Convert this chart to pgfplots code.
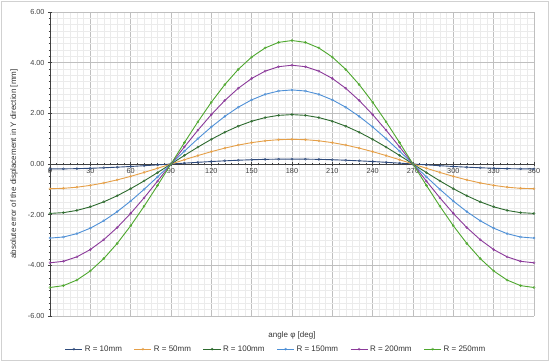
\documentclass[border=0pt]{standalone}
\usepackage{pgfplots}
\usepackage{pgfplotstable}
\pgfplotsset{compat=1.18}
\usepackage{fontspec}
\setmainfont{Liberation Sans}
\definecolor{cA}{HTML}{2F4B7C}
\definecolor{cB}{HTML}{E59F47}
\definecolor{cC}{HTML}{2D6A2E}
\definecolor{cD}{HTML}{4D8FD6}
\definecolor{cE}{HTML}{8B3A9A}
\definecolor{cF}{HTML}{4EA72E}
\pgfplotstableread{
phi r10 r50 r100 r150 r200 r250
0 -0.195 -0.975 -1.950 -2.925 -3.900 -4.875
10 -0.192 -0.960 -1.920 -2.881 -3.841 -4.801
20 -0.183 -0.916 -1.832 -2.749 -3.665 -4.581
30 -0.169 -0.844 -1.689 -2.533 -3.377 -4.222
40 -0.149 -0.747 -1.494 -2.241 -2.987 -3.734
50 -0.125 -0.627 -1.253 -1.880 -2.507 -3.134
60 -0.098 -0.488 -0.975 -1.463 -1.950 -2.438
70 -0.067 -0.333 -0.667 -1.000 -1.334 -1.667
80 -0.034 -0.169 -0.339 -0.508 -0.677 -0.846
90 0 0 0 0 0 0
100 0.034 0.169 0.339 0.508 0.677 0.846
110 0.067 0.333 0.667 1.000 1.334 1.667
120 0.098 0.488 0.975 1.463 1.950 2.438
130 0.125 0.627 1.253 1.880 2.507 3.134
140 0.149 0.747 1.494 2.241 2.987 3.734
150 0.169 0.844 1.689 2.533 3.377 4.222
160 0.183 0.916 1.832 2.749 3.665 4.581
170 0.192 0.960 1.920 2.881 3.841 4.801
180 0.195 0.975 1.950 2.925 3.900 4.875
190 0.192 0.960 1.920 2.881 3.841 4.801
200 0.183 0.916 1.832 2.749 3.665 4.581
210 0.169 0.844 1.689 2.533 3.377 4.222
220 0.149 0.747 1.494 2.241 2.987 3.734
230 0.125 0.627 1.253 1.880 2.507 3.134
240 0.098 0.488 0.975 1.463 1.950 2.438
250 0.067 0.333 0.667 1.000 1.334 1.667
260 0.034 0.169 0.339 0.508 0.677 0.846
270 0 0 0 0 0 0
280 -0.034 -0.169 -0.339 -0.508 -0.677 -0.846
290 -0.067 -0.333 -0.667 -1.000 -1.334 -1.667
300 -0.098 -0.488 -0.975 -1.463 -1.950 -2.438
310 -0.125 -0.627 -1.253 -1.880 -2.507 -3.134
320 -0.149 -0.747 -1.494 -2.241 -2.987 -3.734
330 -0.169 -0.844 -1.689 -2.533 -3.377 -4.222
340 -0.183 -0.916 -1.832 -2.749 -3.665 -4.581
350 -0.192 -0.960 -1.920 -2.881 -3.841 -4.801
360 -0.195 -0.975 -1.950 -2.925 -3.900 -4.875
}\data
\begin{document}
\begin{tikzpicture}
\useasboundingbox (-50pt,-46pt) rectangle (500pt,316pt);
\draw[black!18, line width=0.6pt] (-48.5pt,-44.5pt) rectangle (498.5pt,314.5pt);
\begin{axis}[
  at={(0,0)}, anchor=south west,
  scale only axis, width=484pt, height=304pt,
  xmin=0, xmax=360, ymin=-6, ymax=6,
  axis x line=middle, axis y line=left,
  axis line style={black!75, line width=0.6pt, -},
  hide obscured x ticks=false, hide obscured y ticks=false,
  xtick={0,30,...,360}, ytick={-6,-4,...,6},
  minor x tick num=5, minor y tick num=7,
  grid=both,
  major grid style={black!25, line width=0.5pt},
  minor grid style={black!8, line width=0.4pt},
  tick style={black!75, line width=0.5pt},
  major tick length=4pt, minor tick length=2.5pt,
  tick align=center,
  x tick label style={font=\fontsize{7.3}{8}\selectfont, text=black!75, yshift=1pt},
  y tick label style={font=\fontsize{7.3}{8}\selectfont, text=black!75, /pgf/number format/.cd, fixed, fixed zerofill, precision=2, assume math mode=true},
  xticklabel style={/pgf/number format/assume math mode=true},
  xlabel={angle φ [deg]},
  xlabel style={font=\fontsize{8}{9}\selectfont, text=black!80, at={(axis description cs:0.5,0)}, anchor=north, yshift=-12pt},
  ylabel={absolute error of the displacement in Y direction [mm]},
  ylabel style={font=\fontsize{8}{9}\selectfont, text=black!80, at={(axis description cs:-0.074,0.5)}, anchor=center},
  legend style={at={(axis description cs:0.467,-0.109)}, anchor=center, draw=none, fill=none,
    font=\fontsize{8}{9}\selectfont, text=black!80, legend columns=-1,
    /tikz/every even column/.append style={column sep=10pt}},
  legend cell align=left,
  every axis plot/.append style={line width=0.9pt, mark=o, mark size=1.1pt, mark options={solid, fill=white, line width=0.4pt}},
]
\addplot[cA] table[x=phi, y=r10] {\data};
\addlegendentry{R = 10mm}
\addplot[cB] table[x=phi, y=r50] {\data};
\addlegendentry{R = 50mm}
\addplot[cC] table[x=phi, y=r100] {\data};
\addlegendentry{R = 100mm}
\addplot[cD] table[x=phi, y=r150] {\data};
\addlegendentry{R = 150mm}
\addplot[cE] table[x=phi, y=r200] {\data};
\addlegendentry{R = 200mm}
\addplot[cF] table[x=phi, y=r250] {\data};
\addlegendentry{R = 250mm}
\node[font=\fontsize{7.3}{8}\selectfont, text=black!75, anchor=north, inner sep=3pt] at (axis cs:0,0) {0};
\end{axis}
\end{tikzpicture}
\end{document}
